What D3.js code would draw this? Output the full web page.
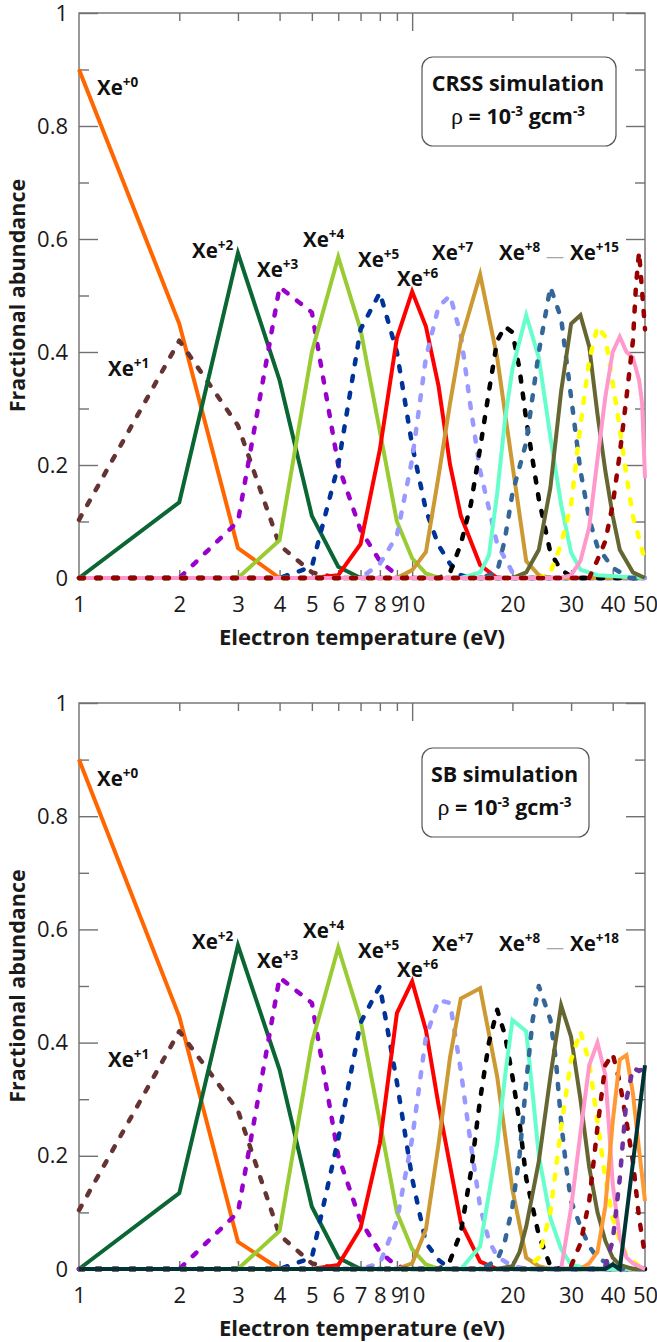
<!DOCTYPE html>
<html><head><meta charset="utf-8">
<script src="https://cdn.jsdelivr.net/npm/d3@7"></script>
<style>body{margin:0;background:#fff} svg{display:block;font-family:"Open Sans",sans-serif}</style>
</head><body><svg id="chart" width="657" height="1342"></svg>
<script>
// ---------- data ----------
const xTickValues = [1, 2, 3, 4, 5, 6, 7, 8, 9, 10, 20, 30, 40, 50];
const xMinorTicks = [2, 3, 4, 5, 6, 7, 8, 9, 20, 30, 40];
const xMajorTicks = [10];
const yTickValues = [0, 0.2, 0.4, 0.6, 0.8, 1];
const yMinorTicks = [0.1, 0.3, 0.5, 0.7, 0.9];
const ionCharges = ["+0","+1","+2","+3","+4","+5","+6","+7","+8","+9","+10","+11","+12","+13","+14","+15","+16","+17","+18"];

// CRSS simulation, each series: [electron temperature (eV), fractional abundance]
const crssSeries = [
  [[1,0.9],[2,0.45],[3,0.053],[4,0],[50,0]],
  [[1,0.103],[2,0.42],[3,0.27],[4,0.058],[5,0.01],[6,0],[50,0]],
  [[1,0],[2,0.134],[3,0.575],[4,0.35],[5,0.11],[6,0.02],[7,0],[50,0]],
  [[1,0],[2,0],[3,0.1],[4,0.515],[5,0.47],[6,0.2],[7,0.085],[8,0.03],[9,0.005],[10,0],[50,0]],
  [[1,0],[3,0],[4,0.067],[5,0.4],[6,0.568],[7,0.44],[8,0.26],[9,0.1],[10,0.035],[11,0.008],[12,0],[50,0]],
  [[1,0],[4,0],[5,0.02],[6,0.2],[7,0.44],[8,0.505],[9,0.4],[10,0.235],[11,0.12],[12,0.058],[13,0.025],[14,0.005],[15,0],[50,0]],
  [[1,0],[5,0],[6,0.005],[7,0.06],[8,0.227],[9,0.425],[10,0.507],[11,0.445],[12,0.34],[13,0.2],[14,0.11],[16,0.023],[18,0],[50,0]],
  [[1,0],[7,0],[8,0.025],[9,0.075],[10,0.21],[11,0.39],[12,0.48],[13,0.5],[14,0.43],[15,0.3],[16,0.19],[18,0.06],[20,0.01],[22,0],[50,0]],
  [[1,0],[9,0],[10,0.014],[11,0.046],[12,0.18],[13,0.31],[14,0.42],[16,0.537],[18,0.39],[20,0.2],[22,0.03],[24,0.005],[26,0],[50,0]],
  [[1,0],[12,0],[13,0.01],[14,0.06],[15,0.13],[16,0.23],[17,0.33],[18,0.42],[19,0.445],[20,0.435],[21,0.37],[22,0.28],[24,0.14],[26,0.045],[28,0.014],[30,0.003],[32,0],[50,0]],
  [[1,0],[14,0],[16,0.01],[17,0.04],[18,0.15],[19,0.28],[20,0.37],[22,0.465],[24,0.39],[26,0.25],[28,0.13],[30,0.045],[32,0.015],[36,0.005],[50,0]],
  [[1,0],[16,0],[18,0.01],[19,0.07],[20,0.15],[22,0.24],[24,0.4],[26,0.515],[28,0.46],[30,0.32],[32,0.19],[34,0.105],[36,0.055],[40,0.018],[45,0],[50,0]],
  [[1,0],[20,0],[22,0.01],[24,0.05],[26,0.16],[28,0.33],[30,0.45],[32,0.465],[34,0.41],[36,0.29],[38,0.19],[40,0.11],[42,0.05],[46,0.01],[50,0]],
  [[1,0],[24,0],[26,0.01],[28,0.06],[30,0.13],[32,0.27],[34,0.385],[36,0.445],[38,0.427],[40,0.345],[42,0.265],[44,0.18],[46,0.11],[48,0.07],[50,0.03]],
  [[1,0],[28,0],[30,0.005],[32,0.03],[34,0.09],[36,0.21],[38,0.32],[40,0.4],[42,0.427],[44,0.4],[46,0.39],[48,0.35],[49,0.31],[50,0.177]],
  [[1,0],[34,0],[36,0.032],[38,0.065],[40,0.13],[42,0.22],[44,0.32],[46,0.42],[47,0.52],[48,0.577],[50,0.44]]
];

// SB simulation
const sbSeries = [
  [[1,0.9],[2,0.446],[3,0.048],[4,0],[50,0]],
  [[1,0.104],[2,0.42],[3,0.28],[4,0.06],[5,0.01],[6,0],[50,0]],
  [[1,0],[2,0.134],[3,0.572],[4,0.352],[5,0.11],[6,0.02],[7,0],[50,0]],
  [[1,0],[2,0],[3,0.1],[4,0.515],[5,0.47],[6,0.2],[7,0.085],[8,0.03],[9,0.005],[10,0],[50,0]],
  [[1,0],[3,0],[4,0.067],[5,0.4],[6,0.568],[7,0.44],[8,0.26],[9,0.1],[10,0.035],[11,0.008],[12,0],[50,0]],
  [[1,0],[4,0],[5,0.02],[6,0.23],[7,0.435],[8,0.5],[9,0.33],[10,0.16],[11,0.046],[12,0.016],[13,0],[50,0]],
  [[1,0],[5,0],[6,0.007],[7,0.072],[8,0.222],[9,0.452],[10,0.508],[11,0.422],[12,0.29],[14,0.082],[16,0.013],[18,0],[50,0]],
  [[1,0],[7,0],[8,0.01],[9,0.085],[10,0.23],[11,0.41],[12,0.475],[13,0.47],[14,0.35],[15,0.22],[16,0.11],[17,0.05],[18,0.022],[20,0.005],[22,0],[50,0]],
  [[1,0],[9,0],[10,0.01],[11,0.07],[12,0.22],[13,0.375],[14,0.478],[16,0.496],[18,0.34],[20,0.14],[22,0.02],[24,0.005],[26,0],[50,0]],
  [[1,0],[12,0],[13,0.015],[14,0.065],[15,0.17],[16,0.3],[17,0.4],[18,0.458],[19,0.413],[20,0.34],[21,0.26],[22,0.16],[24,0.06],[26,0.005],[28,0],[50,0]],
  [[1,0],[14,0],[16,0.04],[18,0.22],[19,0.34],[20,0.44],[22,0.42],[23,0.31],[24,0.2],[26,0.09],[28,0.035],[30,0.008],[34,0],[50,0]],
  [[1,0],[16,0],[18,0.015],[19,0.05],[20,0.11],[21,0.2],[22,0.33],[23,0.44],[24,0.5],[25,0.47],[26,0.44],[27,0.37],[28,0.26],[29,0.18],[30,0.12],[32,0.075],[34,0.04],[36,0.02],[40,0.005],[42,0],[50,0]],
  [[1,0],[18,0],[20,0.005],[21,0.03],[22,0.075],[24,0.19],[26,0.34],[28,0.466],[30,0.41],[32,0.3],[34,0.18],[36,0.1],[38,0.05],[40,0.02],[42,0.007],[46,0],[50,0]],
  [[1,0],[22,0],[24,0.02],[26,0.1],[28,0.25],[30,0.37],[32,0.42],[34,0.365],[36,0.26],[38,0.16],[40,0.09],[42,0.05],[44,0.025],[48,0.005],[50,0]],
  [[1,0],[28,0],[30,0.108],[32,0.24],[34,0.36],[36,0.4],[38,0.343],[39,0.25],[40,0.15],[42,0.055],[44,0.02],[46,0.01],[50,0]],
  [[1,0],[28,0],[30,0.005],[32,0.045],[34,0.12],[36,0.25],[38,0.36],[40,0.38],[42,0.33],[44,0.26],[46,0.19],[48,0.09],[50,0.025]],
  [[1,0],[32,0],[34,0.01],[36,0.03],[38,0.11],[40,0.26],[42,0.37],[44,0.378],[46,0.31],[48,0.21],[50,0.12]],
  [[1,0],[36,0],[38,0.005],[40,0.05],[42,0.16],[44,0.3],[46,0.355],[48,0.35],[50,0.355]],
  [[1,0],[38,0],[40,0.008],[42,0],[50,0.36]]
];

// ---------- styles ----------
const ionColors = ["#ff6600","#663333","#0a6632","#9900cc","#99cc33","#003399","#ff0000","#9999ff",
  "#cc9933","#000000","#66ffcc","#336699","#666633","#ffff00","#ff99cc","#990000","#ff9933","#7030a0","#003333"];
const ionDotted = ionCharges.map((c, i) => i % 2 === 1);

// ---------- drawing ----------
const svg = d3.select("#chart");
const X0 = 79, X1 = 645;
const axisColor = "#707070";
const FONT = "'Open Sans'";

function drawPanel(series, yTop, yBottom, boxTitle, box, rangeLabel) {
  const x = d3.scaleLog().domain([1, 50]).range([X0, X1]);
  const y = d3.scaleLinear().domain([0, 1]).range([yBottom, yTop]);
  const g = svg.append("g");

  // frame
  g.append("rect").attr("x", X0).attr("y", yTop).attr("width", X1 - X0).attr("height", yBottom - yTop)
    .attr("fill", "none").attr("stroke", axisColor).attr("stroke-width", 1.4);

  // inward ticks
  const tickStyle = sel => { sel.select(".domain").remove(); sel.selectAll("line").attr("stroke", axisColor).attr("stroke-width", 1.4); sel.selectAll("text").remove(); };
  g.append("g").attr("transform", `translate(${X0},0)`).call(d3.axisLeft(y).tickValues(yTickValues).tickSize(-19)).call(tickStyle);
  g.append("g").attr("transform", `translate(${X0},0)`).call(d3.axisLeft(y).tickValues(yMinorTicks).tickSize(-10)).call(tickStyle);
  g.append("g").attr("transform", `translate(${X1},0)`).call(d3.axisRight(y).tickValues(yTickValues).tickSize(-19)).call(tickStyle);
  g.append("g").attr("transform", `translate(${X1},0)`).call(d3.axisRight(y).tickValues(yMinorTicks).tickSize(-10)).call(tickStyle);
  g.append("g").attr("transform", `translate(0,${yTop})`).call(d3.axisTop(x).tickValues(xMinorTicks).tickSize(-8)).call(tickStyle);
  g.append("g").attr("transform", `translate(0,${yTop})`).call(d3.axisTop(x).tickValues(xMajorTicks).tickSize(-18)).call(tickStyle);
  g.append("g").attr("transform", `translate(0,${yBottom})`).call(d3.axisBottom(x).tickValues(xMinorTicks).tickSize(-8)).call(tickStyle);
  g.append("g").attr("transform", `translate(0,${yBottom})`).call(d3.axisBottom(x).tickValues(xMajorTicks).tickSize(-18)).call(tickStyle);

  // tick labels
  const labStyle = sel => { sel.select(".domain").remove(); sel.selectAll("line").remove();
    sel.selectAll("text").attr("fill", "#1a1a1a").style("font-family", FONT).style("font-size", "22px"); };
  g.append("g").attr("transform", `translate(${X0},0)`)
    .call(d3.axisLeft(y).tickValues(yTickValues).tickSize(0).tickPadding(11).tickFormat(d => String(d))).call(labStyle);
  g.append("g").attr("transform", `translate(0,${yBottom})`)
    .call(d3.axisBottom(x).tickValues(xTickValues).tickSize(0).tickPadding(18).tickFormat(d => String(d))).call(labStyle);

  // axis titles
  g.append("text").attr("x", (X0 + X1) / 2).attr("y", yBottom + 67).attr("text-anchor", "middle")
    .style("font-family", FONT).style("font-weight", "bold").style("font-size", "22px").attr("fill", "#1a1a1a")
    .text("Electron temperature (eV)");
  g.append("text").attr("transform", `translate(25,${(yTop + yBottom) / 2}) rotate(-90)`).attr("text-anchor", "middle")
    .style("font-family", FONT).style("font-weight", "bold").style("font-size", "21.5px").attr("fill", "#1a1a1a")
    .text("Fractional abundance");

  // series lines
  const line = d3.line().x(d => x(d[0])).y(d => y(d[1]));
  series.forEach((s, i) => {
    const p = g.append("path").datum(s).attr("d", line).attr("fill", "none")
      .attr("stroke", ionColors[i]);
    if (ionDotted[i]) {
      p.attr("stroke-width", 4.5).attr("stroke-linecap", "round").attr("stroke-linejoin", "round").attr("stroke-dasharray", "5,12");
    } else {
      p.attr("stroke-width", 4).attr("stroke-linejoin", "miter").attr("stroke-miterlimit", 10);
    }
  });

  // ion labels (pixel offsets relative to the panel's zero line)
  const off = yBottom - 578;
  const ionLabel = (px, py, charge) => {
    const t = g.append("text").attr("x", px).attr("y", py + off).attr("fill", "#111")
      .style("font-family", FONT).style("font-weight", "bold").style("font-size", "20.5px");
    t.append("tspan").text("Xe");
    t.append("tspan").attr("dy", -8).style("font-size", "13.5px").text(charge);
  };
  ionLabel(97, 95, ionCharges[0]);
  ionLabel(108, 376, ionCharges[1]);
  ionLabel(192, 258, ionCharges[2]);
  ionLabel(257, 277, ionCharges[3]);
  ionLabel(303, 247, ionCharges[4]);
  ionLabel(358, 267, ionCharges[5]);
  ionLabel(397, 286, ionCharges[6]);
  ionLabel(432, 260, ionCharges[7]);
  ionLabel(499, 260, ionCharges[8]);
  g.append("text").attr("x", 555).attr("y", 263 + off).attr("text-anchor", "middle").attr("fill", "#a6a6a6")
    .style("font-family", FONT).style("font-size", "18px").text("\u2014");
  ionLabel(570, 260, rangeLabel);

  // info box
  g.append("rect").attr("x", box[0]).attr("y", box[1]).attr("width", box[2]).attr("height", box[3])
    .attr("rx", 11).attr("fill", "#fff").attr("stroke", "#555").attr("stroke-width", 1.2);
  const cx = box[0] + box[2] / 2 - 1;
  g.append("text").attr("x", cx).attr("y", box[1] + 34).attr("text-anchor", "middle").attr("fill", "#111")
    .style("font-family", FONT).style("font-weight", "bold").style("font-size", "21.5px").text(boxTitle);
  const t2 = g.append("text").attr("x", cx).attr("y", box[1] + 67).attr("text-anchor", "middle").attr("fill", "#111")
    .style("font-family", FONT).style("font-weight", "bold").style("font-size", "21.5px");
  t2.append("tspan").style("font-family", "'Liberation Serif'").style("font-weight", "normal").style("font-size", "24px").text("\u03c1");
  t2.append("tspan").text(" = 10");
  t2.append("tspan").attr("dy", -8).style("font-size", "13.5px").text("-3");
  t2.append("tspan").attr("dy", 8).text(" gcm");
  t2.append("tspan").attr("dy", -8).style("font-size", "13.5px").text("-3");
}

drawPanel(crssSeries, 13, 578, "CRSS simulation", [422, 57, 194, 89], ionCharges[15]);
drawPanel(sbSeries, 703, 1269, "SB simulation", [422, 748, 167, 89], ionCharges[18]);
</script></body></html>
